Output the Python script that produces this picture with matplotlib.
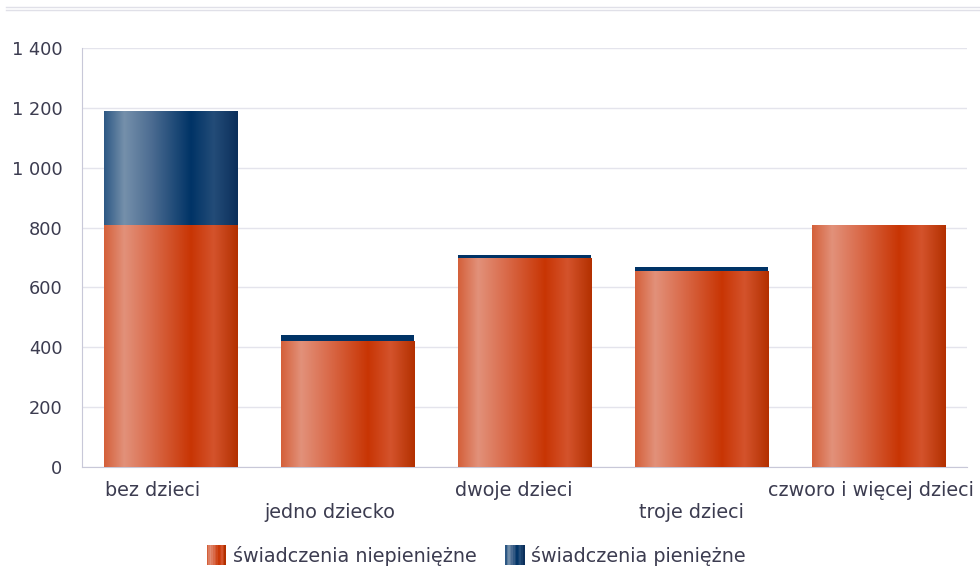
import numpy as np
import matplotlib
matplotlib.use("Agg")
import matplotlib.pyplot as plt
from matplotlib.colors import LinearSegmentedColormap
from matplotlib.patches import Rectangle
from matplotlib.legend_handler import HandlerBase
from matplotlib.lines import Line2D

categories = ["bez dzieci", "jedno dziecko", "dwoje dzieci", "troje dzieci", "czworo i więcej dzieci"]
niepieniezne = [808, 421, 698, 655, 808]
pieniezne = [381, 20, 10, 13, 0]
series_names = ["świadczenia niepieniężne", "świadczenia pieniężne"]
yticks = [0, 200, 400, 600, 800, 1000, 1200, 1400]

orange_stops = [(0.0, "#d4603a"), (0.15, "#e2917a"), (0.35, "#da6c4c"), (0.65, "#c83504"),
                (0.82, "#d4532c"), (1.0, "#b33000")]
blue_stops = [(0.0, "#2d5884"), (0.15, "#7590ab"), (0.35, "#4d6d92"), (0.65, "#003366"),
              (0.82, "#234c78"), (1.0, "#0b2f5b")]
cm_orange = LinearSegmentedColormap.from_list("o", orange_stops)
cm_blue = LinearSegmentedColormap.from_list("b", blue_stops)

plt.rcParams['font.family'] = ['DejaVu Sans']
fig = plt.figure(figsize=(9.8, 5.71), dpi=100)
ax = fig.add_axes([82/980, 104/571, (967-82)/980, 419/571])

x = np.arange(len(categories))
w = 0.757
b1 = ax.bar(x, niepieniezne, width=w, color="#c83504", zorder=2)
b2 = ax.bar(x, pieniezne, width=w, bottom=niepieniezne, color="#003366", zorder=2)

grad = np.linspace(0, 1, 256).reshape(1, -1)
for bars, cm in ((b1, cm_orange), (b2, cm_blue)):
    for p in bars:
        if p.get_height() <= 0:
            p.set_visible(False)
            continue
        if p.get_height() < 50:
            continue  # thin segments drawn solid
        x0, y0 = p.get_x(), p.get_y()
        im = ax.imshow(grad, cmap=cm, aspect='auto', extent=(x0, x0 + p.get_width(), y0, y0 + p.get_height()),
                       zorder=3, interpolation='bilinear')
        im.set_clip_path(p)

ax.set_xlim(-0.5, len(categories) - 0.5)
ax.set_ylim(0, 1400)
ax.set_yticks(yticks)
ax.set_yticklabels([f"{v:,}".replace(",", " ") for v in yticks])
ax.yaxis.grid(True, color="#e4e4ec", linewidth=1, zorder=0)
ax.set_axisbelow(True)
for s in ["top", "right"]:
    ax.spines[s].set_visible(False)
for s in ["left", "bottom"]:
    ax.spines[s].set_color("#c8c8d8")
ax.tick_params(axis='y', length=0, pad=14, labelsize=12.8, labelcolor="#3c3c50")
ax.tick_params(axis='x', length=0)
ax.set_xticks([])

label_dx = [-0.1, -0.1, -0.06, -0.055, -0.045]
for i, c in enumerate(categories):
    yoff = -0.055 if i % 2 == 0 else -0.108
    ax.text(i + label_dx[i], yoff, c, transform=ax.get_xaxis_transform(), ha='center', va='center',
            fontsize=13.8, color="#3c3c50")

# top double line
fig.add_artist(Line2D([6/980, 1], [1 - 7/571, 1 - 7/571], transform=fig.transFigure, color="#e0e0e8", lw=1))
fig.add_artist(Line2D([6/980, 1], [1 - 10/571, 1 - 10/571], transform=fig.transFigure, color="#e0e0e8", lw=1))


class GradHandler(HandlerBase):
    def __init__(self, cm):
        super().__init__()
        self.cm = cm

    def create_artists(self, legend, orig_handle, xdescent, ydescent, width, height, fontsize, trans):
        n = 12
        arts = []
        sq = height * 1.45
        for k in range(n):
            r = Rectangle((xdescent + width - sq + sq * k / n, -ydescent - height * 0.22), sq / n + 0.3, sq,
                          facecolor=self.cm(k / (n - 1)), edgecolor='none', transform=trans)
            arts.append(r)
        return arts


h1 = Rectangle((0, 0), 1, 1)
h2 = Rectangle((0, 0), 1, 1)
fig.legend([h1, h2], series_names, loc='center', bbox_to_anchor=(0.485, 1 - 556/571), ncol=2, frameon=False,
           fontsize=13.8, labelcolor="#3c3c50", handler_map={h1: GradHandler(cm_orange), h2: GradHandler(cm_blue)},
           handlelength=1.1, handletextpad=0.35, columnspacing=1.4)

fig.savefig("out.png", dpi=100)
